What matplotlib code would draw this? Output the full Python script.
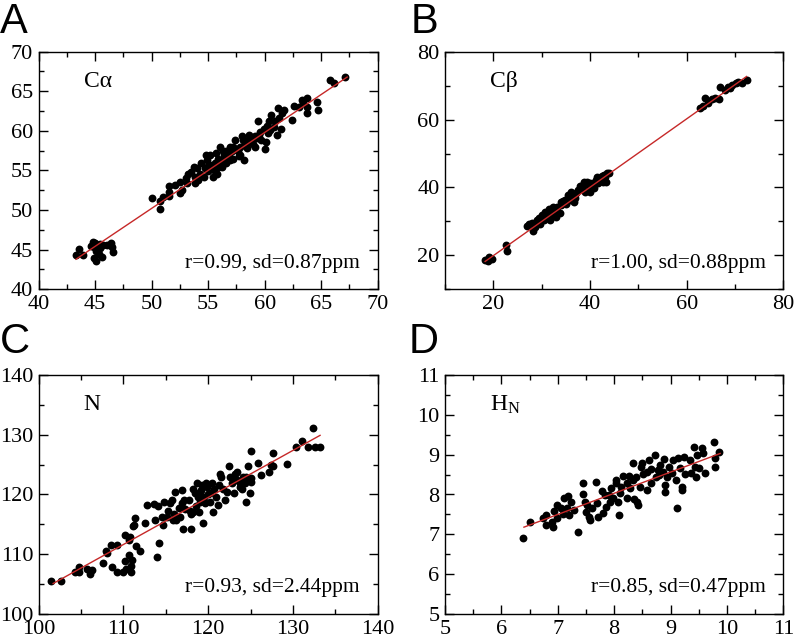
import matplotlib
matplotlib.use("Agg")
import matplotlib.pyplot as plt
from matplotlib.ticker import MultipleLocator

plt.rcParams['font.family'] = ['Liberation Serif', 'DejaVu Serif']
plt.rcParams['mathtext.fontset'] = 'custom'
plt.rcParams['mathtext.rm'] = 'Liberation Serif'
plt.rcParams['mathtext.it'] = 'Liberation Serif:italic'

# ---------------- Panel A: C-alpha ----------------
ca_x = [43.3, 43.6, 43.9, 44.6, 45.0, 44.9, 45.1, 44.9, 45.1, 45.4, 45.6, 45.7, 46.0, 46.4,
        46.5, 46.6, 45.4, 45.3, 44.8,
        50.0, 50.7, 50.7, 51.0, 51.5, 51.5, 51.5, 52.1, 52.5, 52.5, 52.7, 53.1, 53.5, 53.8,
        53.8, 54.0, 54.3, 54.4, 54.6, 54.7, 54.8, 54.9, 55.0, 55.2, 55.4, 55.5, 55.6, 55.8,
        55.9, 56.0, 56.1, 56.3, 56.4, 56.6, 56.8, 56.9, 57.1, 57.2, 57.2, 57.4, 57.6, 57.8,
        57.8, 58.0, 58.2, 58.3, 58.4, 58.6, 58.8, 59.0, 59.1, 59.4, 59.3, 59.5, 59.7, 59.9,
        60.0, 60.1, 60.2, 60.3, 60.5, 60.6, 60.8, 61.1, 61.2, 61.3, 61.4, 61.5, 61.7, 62.4,
        62.6, 63.0, 63.3, 63.4, 63.7, 63.7, 63.7, 64.6, 64.7, 65.8, 66.1, 67.1,
        53.0, 53.2, 53.7, 54.1, 54.9, 55.2, 55.7, 55.8, 56.2, 56.3, 56.6, 56.9, 57.5, 57.7,
        58.1, 58.5, 58.9, 59.1, 59.6, 60.4, 60.9]
ca_y = [44.3, 45.05, 44.3, 45.5, 45.9, 45.4, 44.8, 43.9, 43.6, 45.2, 44.1, 45.6, 45.6, 45.8,
        45.3, 44.7, 45.7, 44.5, 46.0,
        51.5, 50.1, 51.1, 51.6, 51.8, 53.0, 52.3, 53.2, 53.6, 52.1, 52.6, 53.4, 54.8, 53.4,
        54.2, 55.3, 54.6, 55.9, 54.2, 55.3, 57.0, 56.3, 54.9, 55.7, 54.2, 55.1, 55.9, 55.3,
        56.5, 58.0, 55.8, 56.3, 57.0, 57.4, 56.8, 56.3, 57.4, 58.0, 56.5, 58.9, 57.4, 58.0,
        57.0, 59.3, 56.3, 58.4, 57.8, 59.5, 58.6, 58.4, 59.3, 61.2, 59.1, 59.5, 58.9, 60.3,
        57.7, 58.6, 60.6, 59.7, 60.1, 62.0, 60.5, 59.5, 62.9, 61.6, 60.3, 62.2, 62.6, 61.4,
        63.1, 63.0, 63.9, 63.5, 62.3, 64.1, 63.0, 63.7, 62.6, 66.4, 66.1, 66.8,
        54.0, 54.6, 55.5, 53.8, 55.5, 57.0, 57.2, 54.6, 55.5, 57.4, 55.9, 58.0, 57.7, 56.8,
        58.9, 58.9, 59.1, 58.0, 59.9, 61.2, 61.2]
ca_fit_x = [43.3, 67.3]
ca_fit_y = [43.8, 66.8]

# ---------------- Panel B: C-beta ----------------
cb_x = [18.3, 18.8, 19.2, 19.7, 18.8, 22.6, 22.8, 26.9, 27.9, 28.3, 28.6, 29.0, 29.5, 29.7,
        30.0, 30.5, 31.0, 31.4, 31.7, 32.1, 32.6, 33.0, 33.2, 33.7, 34.1, 34.5, 35.0, 35.5,
        35.9, 36.2, 36.6, 37.1, 37.6, 38.3, 38.6, 39.0, 39.3, 39.7, 40.0, 40.3, 40.8, 41.2,
        41.7, 42.1, 42.6, 42.9, 43.3, 43.6, 44.0,
        62.8, 63.4, 63.8, 64.5, 65.2, 65.9, 66.6, 66.8, 68.0, 68.6, 69.0, 69.3, 70.3, 70.7,
        71.4, 72.4,
        27.4, 29.3, 30.7, 31.6, 32.3, 33.1, 33.9, 34.8, 36.0, 36.9, 37.9, 38.8, 39.9, 40.6,
        41.5, 42.4, 43.1]
cb_y = [18.6, 18.8, 19.6, 18.8, 18.2, 23.1, 21.4, 28.7, 29.5, 27.3, 28.3, 30.4, 30.9, 29.3,
        31.9, 30.4, 31.4, 32.6, 30.4, 31.9, 33.2, 31.4, 34.2, 32.4, 34.9, 36.1, 35.2, 37.8,
        36.3, 37.3, 35.8, 38.3, 39.3, 39.8, 40.8, 38.8, 41.5, 40.3, 38.8, 40.3, 39.8, 42.2,
        41.4, 42.7, 41.7, 43.7, 41.7, 44.2, 44.2,
        63.4, 64.1, 66.3, 64.8, 66.0, 66.3, 66.0, 69.5, 68.8, 69.7, 69.3, 70.2, 70.7, 71.2,
        70.7, 71.7,
        29.3, 29.7, 32.9, 33.6, 34.2, 32.4, 35.6, 36.3, 38.8, 36.8, 40.3, 41.7, 41.4, 41.2,
        43.2, 43.4, 43.2]
cb_fit_x = [18.3, 72.4]
cb_fit_y = [18.2, 72.7]

# ---------------- Panel C: N ----------------
n_x = [101.5, 102.6, 104.3, 104.7, 104.7, 105.7, 106.1, 106.3, 107.6, 107.9, 108.1, 108.6,
       108.5, 109.2, 109.2, 110.0, 110.2, 110.3, 110.2, 110.6, 110.7, 110.8, 110.9, 110.9,
       111.0, 111.1, 111.2, 111.4, 111.5, 111.9, 112.5, 112.8, 113.6, 113.9, 113.7, 114.2,
       114.1, 114.5, 114.7, 114.8, 115.1, 115.3, 115.5, 115.7, 115.8, 116.0, 116.1, 116.2,
       116.5, 116.7, 116.9, 116.9, 117.0, 117.1, 117.3, 117.7, 117.8, 118.0, 118.2, 118.2,
       118.4, 118.6, 118.7, 118.8, 118.9, 119.0, 119.2, 119.3, 119.4, 119.5, 119.6, 119.7,
       119.9, 120.0, 120.2, 120.4, 120.6, 120.7, 120.9, 121.1, 121.3, 121.4, 121.5, 121.7,
       122.0, 122.2, 122.4, 122.6, 122.8, 123.0, 123.2, 123.4, 123.4, 123.7, 123.8, 124.1,
       124.3, 124.5, 124.5, 124.7, 124.9, 125.0, 125.0, 125.1, 125.9, 126.2, 127.2, 127.4,
       127.6, 127.7, 129.3, 130.4, 131.1, 131.8, 132.4, 132.6, 133.2,
       118.0, 119.0, 120.2, 123.0, 124.0]
n_y = [105.6, 105.6, 107.1, 107.1, 107.8, 107.6, 106.7, 107.4, 108.5, 110.6, 110.2, 107.9,
       111.5, 107.1, 111.5, 107.1, 108.8, 107.6, 113.2, 109.9, 112.4, 112.9, 108.0, 107.1,
       109.0, 114.8, 114.9, 116.0, 111.3, 110.5, 115.2, 118.2, 118.4, 109.5, 115.8, 111.8,
       118.1, 116.2, 114.9, 118.8, 116.3, 117.3, 118.6, 119.1, 115.8, 116.8, 120.4, 115.7,
       117.7, 116.3, 120.7, 118.6, 114.2, 119.1, 117.5, 119.1, 117.3, 114.3, 120.9, 117.1,
       120.2, 118.0, 121.9, 119.6, 117.1, 118.8, 120.7, 121.6, 115.3, 119.6, 118.5, 121.9,
       121.3, 120.1, 120.3, 121.9, 117.1, 121.0, 119.6, 118.2, 121.6, 123.5, 123.0, 121.0,
       119.1, 120.5, 124.7, 123.0, 121.9, 120.2, 123.5, 122.4, 123.8, 121.2, 121.9, 123.0,
       121.9, 118.8, 123.0, 124.8, 120.2, 122.7, 127.2, 122.1, 125.2, 123.3, 123.8, 124.9,
       126.9, 124.7, 125.1, 128.0, 129.0, 127.9, 131.1, 127.9, 127.9,
       116.8, 120.4, 118.8, 122.4, 121.0]
n_fit_x = [101.7, 133.2]
n_fit_y = [105.1, 129.9]

# ---------------- Panel D: HN ----------------
hn_x = [6.39, 6.51, 6.73, 6.80, 6.80, 6.89, 6.92, 6.93, 6.98, 6.98, 7.05, 7.09, 7.11, 7.16,
        7.19, 7.20, 7.23, 7.28, 7.36, 7.44, 7.45, 7.48, 7.50, 7.52, 7.56, 7.57, 7.60, 7.68,
        7.69, 7.72, 7.78, 7.81, 7.84, 7.85, 7.90, 7.93, 7.94, 7.98, 8.03, 8.04, 8.06, 8.09,
        8.10, 8.13, 8.16, 8.22, 8.23, 8.27, 8.28, 8.33, 8.34, 8.35, 8.39, 8.41, 8.43, 8.46,
        8.47, 8.50, 8.52, 8.58, 8.59, 8.62, 8.65, 8.66, 8.72, 8.74, 8.77, 8.80, 8.82, 8.87,
        8.88, 8.90, 8.90, 8.93, 8.98, 9.02, 9.05, 9.10, 9.12, 9.14, 9.17, 9.20, 9.21, 9.23,
        9.26, 9.34, 9.37, 9.41, 9.43, 9.45, 9.47, 9.51, 9.55, 9.58, 9.61, 9.77, 9.79, 9.79,
        9.86]
hn_y = [6.90, 7.32, 7.40, 7.49, 7.23, 7.32, 7.18, 7.59, 7.40, 7.74, 7.65, 7.51, 7.90, 7.65,
        7.95, 7.49, 7.82, 7.61, 7.05, 8.01, 8.28, 7.82, 7.57, 7.74, 7.44, 7.36, 7.65, 8.32,
        7.78, 7.44, 8.10, 7.53, 7.99, 7.69, 7.99, 7.82, 8.16, 7.90, 8.28, 8.36, 7.80, 7.49,
        8.03, 8.20, 8.46, 8.28, 7.90, 8.46, 8.16, 8.78, 8.36, 7.88, 8.44, 7.82, 7.74, 8.20,
        8.70, 8.78, 8.51, 8.11, 8.57, 8.87, 8.28, 8.65, 8.99, 8.45, 8.62, 8.49, 8.74, 8.57,
        8.88, 8.24, 8.07, 8.45, 8.70, 8.53, 8.87, 8.36, 7.67, 8.91, 8.66, 8.20, 8.11, 8.95,
        8.51, 8.87, 8.53, 9.20, 8.70, 8.45, 8.99, 8.66, 9.17, 9.03, 8.53, 9.33, 8.91, 8.68,
        9.07]
hn_fit_x = [6.40, 9.88]
hn_fit_y = [7.18, 9.03]

panel_letters = ['A', 'B', 'C', 'D']
panel_names = [u'C\u03b1', u'C\u03b2', 'N', r'$\mathrm{H}_\mathrm{N}$']
stats = ['r=0.99, sd=0.87ppm', 'r=1.00, sd=0.88ppm', 'r=0.93, sd=2.44ppm', 'r=0.85, sd=0.47ppm']

panels = [
    (ca_x, ca_y, ca_fit_x, ca_fit_y, (40, 70), (40, 70), 5, 2.5, 5, 2.5),
    (cb_x, cb_y, cb_fit_x, cb_fit_y, (10, 80), (10, 80), 20, 10, 20, 10),
    (n_x, n_y, n_fit_x, n_fit_y, (100, 140), (100, 140), 10, 5, 10, 5),
    (hn_x, hn_y, hn_fit_x, hn_fit_y, (5, 11), (5, 11), 1, 0.5, 1, 0.5),
]

W, H = 796, 643
fig = plt.figure(figsize=(W / 100, H / 100), dpi=100)

rects = [
    (38.7, 51.7, 377.7, 289.3),
    (445.0, 51.7, 783.3, 289.3),
    (38.7, 375.0, 377.7, 614.0),
    (445.0, 375.0, 783.3, 614.0),
]
letter_pos = [(0, 2), (411, 2), (0, 322), (409, 322)]

for i, (xs, ys, fx, fy, xl, yl, xmaj, xmin, ymaj, ymin) in enumerate(panels):
    l, t, r, b = rects[i]
    ax = fig.add_axes([l / W, 1 - b / H, (r - l) / W, (b - t) / H])
    ax.scatter(xs, ys, s=32, color='black', linewidths=0, zorder=3)
    ax.plot(fx, fy, color='#c62828', lw=1.0, zorder=4)
    ax.set_xlim(*xl)
    ax.set_ylim(*yl)
    ax.xaxis.set_major_locator(MultipleLocator(xmaj))
    ax.xaxis.set_minor_locator(MultipleLocator(xmin))
    ax.yaxis.set_major_locator(MultipleLocator(ymaj))
    ax.yaxis.set_minor_locator(MultipleLocator(ymin))
    ax.tick_params(which='both', direction='in', top=True, right=True, width=1.0)
    ax.tick_params(which='major', length=6.5, labelsize=16, pad=4)
    ax.tick_params(which='minor', length=3.8)
    for sp in ax.spines.values():
        sp.set_linewidth(1.0)
    ax.text(0.133, 0.875, panel_names[i], transform=ax.transAxes, fontsize=17,
            ha='left', va='center')
    ax.text(0.948, 0.09, stats[i], transform=ax.transAxes, fontsize=15.5,
            ha='right', va='baseline')
    lx, ly = letter_pos[i]
    fig.text(lx / W, 1 - ly / H, panel_letters[i], fontsize=30,
             family=['Liberation Sans', 'DejaVu Sans'], ha='left', va='top')

fig.savefig('out.png', dpi=100)
